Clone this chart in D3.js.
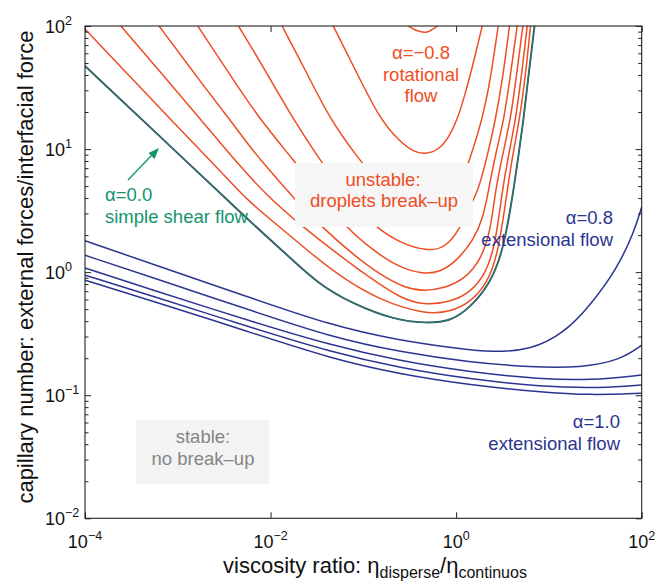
<!DOCTYPE html>
<html>
<head>
<meta charset="utf-8">
<script src="https://cdn.jsdelivr.net/npm/d3@7"></script>
<style>
  body { margin: 0; background: #fff; }
  svg { display: block; font-family: "Liberation Sans", Arial, Helvetica, sans-serif; }
</style>
</head>
<body>
<svg width="665" height="588"></svg>
<script>
// critical capillary number vs viscosity ratio
// each point is [viscosity ratio, capillary number]
const unstable1 = [[0.306,100],[0.373,91.1],[0.48,87.2],[0.569,94.5],[0.628,100]];
const unstable2 = [[0.0474,100],[0.082,43.9],[0.152,17.2],[0.251,11.4],[0.346,9.51],[0.467,9.06],[0.644,9.82],[0.826,12.3],[1.03,17.2],[1.29,30.2],[1.58,55.0],[1.91,100]];
const unstable3 = [[0.0133,100],[0.0237,43.9],[0.0441,17.2],[0.0861,8.61],[0.152,5.09],[0.251,3.85],[0.502,3.19],[0.767,3.51],[1.06,4.64],[1.36,7.69],[1.91,17.2],[2.34,36.4],[2.84,100]];
const unstable4 = [[0.00451,100],[0.00875,43.9],[0.0177,17.2],[0.036,7.69],[0.0689,3.85],[0.135,2.32],[0.251,1.72],[0.486,1.48],[0.767,1.57],[1.11,2.28],[1.43,3.51],[1.74,4.64],[2.18,8.94],[2.65,17.2],[3.16,36.4],[3.76,100]];
const unstable5 = [[0.00164,100],[0.00367,40.0],[0.00772,17.2],[0.0185,7.84],[0.0344,4.23],[0.064,2.32],[0.135,1.45],[0.251,1.08],[0.444,0.963],[0.678,1.0],[1.03,1.25],[1.54,1.82],[1.97,2.80],[2.23,4.64],[2.72,9.82],[3.27,17.2],[3.85,40.0],[4.55,100]];
const unstable6 = [[6.29e-4,100],[0.00187,33.1],[0.00367,17.2],[0.00602,10.4],[0.00834,7.69],[0.0185,3.85],[0.036,2.32],[0.0724,1.45],[0.152,0.946],[0.284,0.741],[0.444,0.701],[0.767,0.741],[1.26,0.894],[1.83,1.25],[2.34,2.11],[2.65,4.64],[3.16,8.94],[3.85,17.2],[4.48,40.0],[5.24,100]];
const unstable7 = [[2.44e-4,100],[6.89e-4,40.0],[0.00179,17.2],[0.00436,7.69],[0.00944,4.07],[0.0225,2.32],[0.0499,1.45],[0.119,0.894],[0.251,0.615],[0.444,0.539],[0.869,0.570],[1.43,0.688],[2.07,0.963],[2.65,1.66],[3.14,4.64],[3.67,8.94],[4.37,17.2],[5.07,40.0],[5.84,100]];
const unstable8 = [[1e-4,94.5],[2.94e-4,40.0],[8.47e-4,17.2],[0.0024,7.69],[0.00602,3.62],[0.0127,2.32],[0.0268,1.43],[0.064,0.861],[0.152,0.592],[0.444,0.456],[0.869,0.473],[1.43,0.570],[2.18,0.814],[2.86,1.45],[3.56,4.64],[4.06,8.94],[4.82,17.2],[5.60,40.0],[6.34,100]];
const simpleShear = [[1e-4,47.3],[7.48e-4,11.4],[0.00574,2.65],[0.0144,1.43],[0.0327,0.80],[0.076,0.555],[0.221,0.407],[0.467,0.385],[0.869,0.396],[1.43,0.519],[2.34,0.814],[3.24,1.51],[4.16,4.64],[4.70,8.94],[5.32,17.2],[6.03,40.0],[7.00,100]];
const extensional1 = [[1e-4,1.80],[5.03e-4,1.18],[0.00602,0.621],[0.0441,0.371],[0.231,0.280],[1.21,0.236],[2.34,0.224],[6.34,0.232],[14.5,0.319],[28.1,0.539],[54.7,1.08],[82.6,2.11],[100,3.38]];
const extensional2 = [[1e-4,1.37],[5.03e-4,0.916],[0.00602,0.491],[0.0441,0.298],[0.251,0.224],[1.43,0.185],[6.34,0.169],[22.0,0.167],[59.3,0.193],[100,0.255]];
const extensional3 = [[1e-4,1.08],[5.03e-4,0.728],[0.00602,0.400],[0.0441,0.255],[0.251,0.189],[1.43,0.154],[8.13,0.135],[28.1,0.132],[100,0.146]];
const extensional4 = [[1e-4,0.946],[5.03e-4,0.650],[0.00602,0.357],[0.0441,0.225],[0.251,0.166],[1.43,0.135],[8.13,0.117],[36.1,0.114],[100,0.121]];
const extensional5 = [[1e-4,0.861],[5.03e-4,0.592],[0.00602,0.325],[0.0441,0.199],[0.251,0.148],[1.43,0.121],[8.13,0.106],[28.1,0.100],[100,0.104]];

const xTicks = [1e-4, 1e-2, 1e0, 1e2];
const xTickExp = ["\u22124", "\u22122", "0", "2"];
const yTicks = [1e-2, 1e-1, 1e0, 1e1, 1e2];
const yTickExp = ["\u22122", "\u22121", "0", "1", "2"];

const orange = "#ef4d24", blue = "#2b3590", green = "#13946f", grey = "#858585";

const svg = d3.select('svg');
const margin = { top: 26, left: 85, right: 23.3, bottom: 69.7 };
const width = 665, height = 588;

const x = d3.scaleLog().domain([1e-4, 1e2]).range([margin.left, width - margin.right]);
const y = d3.scaleLog().domain([1e-2, 1e2]).range([height - margin.bottom, margin.top]);

svg.append("defs").append("clipPath").attr("id", "plot")
  .append("rect")
  .attr("x", x(1e-4)).attr("y", y(1e2))
  .attr("width", x(1e2) - x(1e-4)).attr("height", y(1e-2) - y(1e2));

const line = d3.line()
  .x(d => x(d[0]))
  .y(d => y(d[1]))
  .curve(d3.curveBasis);

const curves = svg.append("g").attr("clip-path", "url(#plot)").attr("fill", "none");

[extensional1, extensional2, extensional3, extensional4, extensional5].forEach(s => {
  curves.append("path").attr("d", line(s)).attr("stroke", blue).attr("stroke-width", 1.5);
});
[unstable1, unstable2, unstable3, unstable4, unstable5, unstable6, unstable7, unstable8].forEach(s => {
  curves.append("path").attr("d", line(s)).attr("stroke", orange).attr("stroke-width", 1.5);
});
// simple shear: dark edge under the green
curves.append("path").attr("d", line(simpleShear)).attr("stroke", "#3a4a5e").attr("stroke-width", 1.9);
curves.append("path").attr("d", line(simpleShear)).attr("stroke", "#1b8c74").attr("stroke-width", 0.9);

// shaded label boxes
svg.append("rect").attr("x", 295).attr("y", 163).attr("width", 178).attr("height", 64).attr("fill", "#f6f6f6");
svg.append("rect").attr("x", 136).attr("y", 420).attr("width", 133).attr("height", 64).attr("fill", "#f3f3f3");

// annotations
const note = (txt, px, py, anchor, color) =>
  svg.append("text").attr("x", px).attr("y", py).attr("text-anchor", anchor)
    .attr("font-size", 18.5).attr("fill", color).text(txt);

note("\u03b1=\u22120.8", 421, 59, "middle", orange);
note("rotational", 421, 81, "middle", orange);
note("flow", 421, 102, "middle", orange);
note("unstable:", 383, 186, "middle", orange);
note("droplets break\u2013up", 384, 207, "middle", orange);
note("\u03b1=0.0", 105, 201, "start", green);
note("simple shear flow", 105, 223, "start", green);
note("\u03b1=0.8", 613, 224, "end", blue);
note("extensional flow", 613, 246, "end", blue);
note("\u03b1=1.0", 620, 428, "end", blue);
note("extensional flow", 620, 450, "end", blue);
note("stable:", 203, 443, "middle", grey);
note("no break\u2013up", 203, 465, "middle", grey);

// arrow to the simple shear curve
svg.append("line").attr("x1", 128).attr("y1", 180).attr("x2", 152).attr("y2", 155)
  .attr("stroke", green).attr("stroke-width", 1.3);
svg.append("path").attr("d", "M159,148 L148.5,153 L154.5,159 Z").attr("fill", green);

// axes: ticks point inward on all four sides
const yMinor = [];
d3.range(-2, 2).forEach(e => { for (let k = 2; k <= 9; k++) yMinor.push(k * Math.pow(10, e)); });

const tickStyle = g => {
  g.select(".domain").remove();
  g.selectAll(".tick line").attr("stroke", "#222");
};

svg.append("g").attr("transform", `translate(0,${y(1e-2)})`)
  .call(d3.axisBottom(x).tickValues(xTicks).tickSize(-6).tickFormat("")).call(tickStyle);
svg.append("g").attr("transform", `translate(0,${y(1e2)})`)
  .call(d3.axisTop(x).tickValues(xTicks).tickSize(-6).tickFormat("")).call(tickStyle);
svg.append("g").attr("transform", `translate(${x(1e-4)},0)`)
  .call(d3.axisLeft(y).tickValues(yTicks).tickSize(-6).tickFormat("")).call(tickStyle);
svg.append("g").attr("transform", `translate(${x(1e-4)},0)`)
  .call(d3.axisLeft(y).tickValues(yMinor).tickSize(-3.5).tickFormat("")).call(tickStyle);
svg.append("g").attr("transform", `translate(${x(1e2)},0)`)
  .call(d3.axisRight(y).tickValues(yTicks).tickSize(-6).tickFormat("")).call(tickStyle);
svg.append("g").attr("transform", `translate(${x(1e2)},0)`)
  .call(d3.axisRight(y).tickValues(yMinor).tickSize(-3.5).tickFormat("")).call(tickStyle);

svg.append("rect")
  .attr("x", x(1e-4)).attr("y", y(1e2))
  .attr("width", x(1e2) - x(1e-4)).attr("height", y(1e-2) - y(1e2))
  .attr("fill", "none").attr("stroke", "#222").attr("stroke-width", 1.1);

// tick labels, 10 with superscript exponent
const xl = svg.selectAll(".xlab").data(xTicks).join("text")
  .attr("class", "xlab")
  .attr("x", d => x(d)).attr("y", 548)
  .attr("text-anchor", "middle").attr("font-size", 18).attr("fill", "#111");
xl.append("tspan").text("10");
xl.append("tspan").attr("dy", -8).attr("font-size", 12.5).text((d, i) => xTickExp[i]);

const yl = svg.selectAll(".ylab").data(yTicks).join("text")
  .attr("class", "ylab")
  .attr("x", 45).attr("y", d => y(d) + 6.5)
  .attr("font-size", 18).attr("fill", "#111");
yl.append("tspan").text("10");
yl.append("tspan").attr("dy", -8).attr("font-size", 12.5).text((d, i) => yTickExp[i]);

// axis titles
svg.append("text")
  .attr("transform", "translate(33,267) rotate(-90)")
  .attr("text-anchor", "middle").attr("font-size", 22).attr("fill", "#111")
  .text("capillary number: external forces/interfacial force");

const xt = svg.append("text")
  .attr("x", 375).attr("y", 573)
  .attr("text-anchor", "middle").attr("font-size", 22).attr("fill", "#111");
xt.append("tspan").text("viscosity ratio: \u03b7");
xt.append("tspan").attr("dy", 5).attr("font-size", 16).text("disperse");
xt.append("tspan").attr("dy", -5).text("/\u03b7");
xt.append("tspan").attr("dy", 5).attr("font-size", 16).text("continuos");
</script>
</body>
</html>
